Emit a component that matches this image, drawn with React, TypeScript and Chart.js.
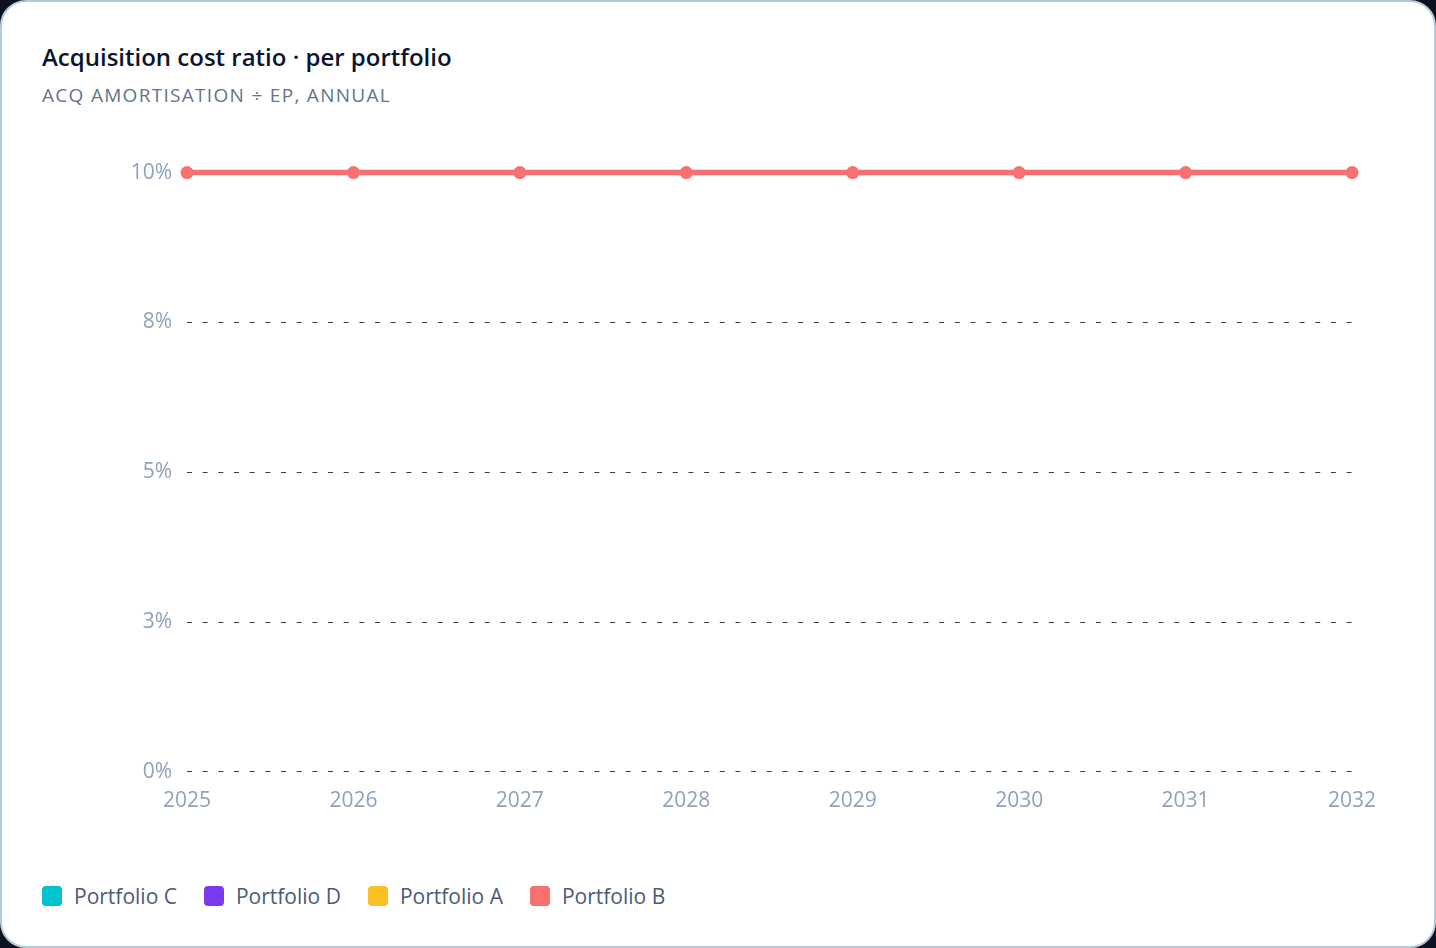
import React, { useEffect, useRef } from "react";
import { Chart, registerables } from "chart.js";

Chart.register(...registerables);

const years = ["2025", "2026", "2027", "2028", "2029", "2030", "2031", "2032"];
const portfolioC = [10, 10, 10, 10, 10, 10, 10, 10];
const portfolioD = [10, 10, 10, 10, 10, 10, 10, 10];
const portfolioA = [10, 10, 10, 10, 10, 10, 10, 10];
const portfolioB = [10, 10, 10, 10, 10, 10, 10, 10];
const seriesNames = ["Portfolio C", "Portfolio D", "Portfolio A", "Portfolio B"];
const seriesColors = ["#00c2cc", "#7c3aed", "#fbbf24", "#f87171"];
const yTicks = [0, 2.5, 5, 7.5, 10];

const FONT = "'Open Sans', 'Noto Sans', sans-serif";

export default function App() {
  const canvasRef = useRef<HTMLCanvasElement | null>(null);

  useEffect(() => {
    document.body.style.margin = "0";
    document.body.style.background = "#0b1220";
    const ctx = canvasRef.current;
    if (!ctx) return;
    const seriesData = [portfolioC, portfolioD, portfolioA, portfolioB];
    const chart = new Chart(ctx, {
      type: "line",
      data: {
        labels: years,
        datasets: seriesData.map((d, i) => {
          const top = i === 3;
          return {
            label: seriesNames[i],
            data: d,
            borderColor: seriesColors[i],
            backgroundColor: seriesColors[i],
            borderWidth: top ? 5.5 : 3,
            pointRadius: top ? 6.5 : 4,
            pointHoverRadius: 6,
            pointBorderWidth: 0,
            tension: 0,
            clip: false as any,
            order: top ? 0 : 1 + i,
          };
        }),
      },
      options: {
        animation: false,
        responsive: true,
        maintainAspectRatio: false,
        layout: { padding: { top: 18, right: 42, bottom: 2, left: 0 } },
        plugins: {
          legend: { display: false },
          tooltip: { enabled: false },
        },
        scales: {
          x: {
            offset: false,
            border: { display: false },
            grid: { display: false, drawTicks: false },
            ticks: {
              color: "#8da2bb",
              padding: 17,
              font: { family: FONT, size: 21 },
              maxRotation: 0,
            },
          },
          y: {
            min: 0,
            max: 10,
            afterFit: (scale: any) => {
              scale.width = 145;
            },
            afterBuildTicks: (scale: any) => {
              scale.ticks = yTicks.map((v) => ({ value: v }));
            },
            grid: {
              color: "#334155",
              lineWidth: 1,
              drawTicks: false,
            },
            border: { display: false, dash: [5, 10.67] } as any,
            ticks: {
              color: "#8da2bb",
              padding: 15,
              font: { family: FONT, size: 21 },
              callback: (v: any) => Math.round(Number(v)) + "%",
            },
          },
        },
      },
    });
    return () => chart.destroy();
  }, []);

  return (
    <div
      style={{
        position: "absolute",
        left: 0,
        top: 0,
        width: 1436,
        height: 948,
        boxSizing: "border-box",
        border: "2px solid #b8c9da",
        borderRadius: 26,
        background: "#ffffff",
        fontFamily: FONT,
        overflow: "hidden",
      }}
    >
      <div
        style={{
          position: "absolute",
          left: 40,
          top: 39,
          fontSize: 24,
          fontWeight: 600,
          color: "#0b1530",
          lineHeight: "32px",
          whiteSpace: "nowrap",
        }}
      >
        Acquisition cost ratio · per portfolio
      </div>
      <div
        style={{
          position: "absolute",
          left: 40,
          top: 80,
          fontSize: 19,
          color: "#64748b",
          letterSpacing: 1.3,
          lineHeight: "26px",
          whiteSpace: "nowrap",
        }}
      >
        ACQ AMORTISATION ÷ EP, ANNUAL
      </div>
      <div
        style={{
          position: "absolute",
          left: 40,
          top: 143,
          width: 1352,
          height: 688,
        }}
      >
        <canvas ref={canvasRef} />
      </div>
      <div
        style={{
          position: "absolute",
          left: 40,
          top: 880,
          display: "flex",
          alignItems: "center",
          gap: 27,
          whiteSpace: "nowrap",
        }}
      >
        {seriesNames.map((n, i) => (
          <div key={n} style={{ display: "flex", alignItems: "center", gap: 12 }}>
            <span
              style={{
                display: "inline-block",
                width: 20,
                height: 20,
                borderRadius: 4,
                background: seriesColors[i],
              }}
            />
            <span style={{ fontSize: 21, color: "#4b5b78", lineHeight: "28px" }}>{n}</span>
          </div>
        ))}
      </div>
    </div>
  );
}
